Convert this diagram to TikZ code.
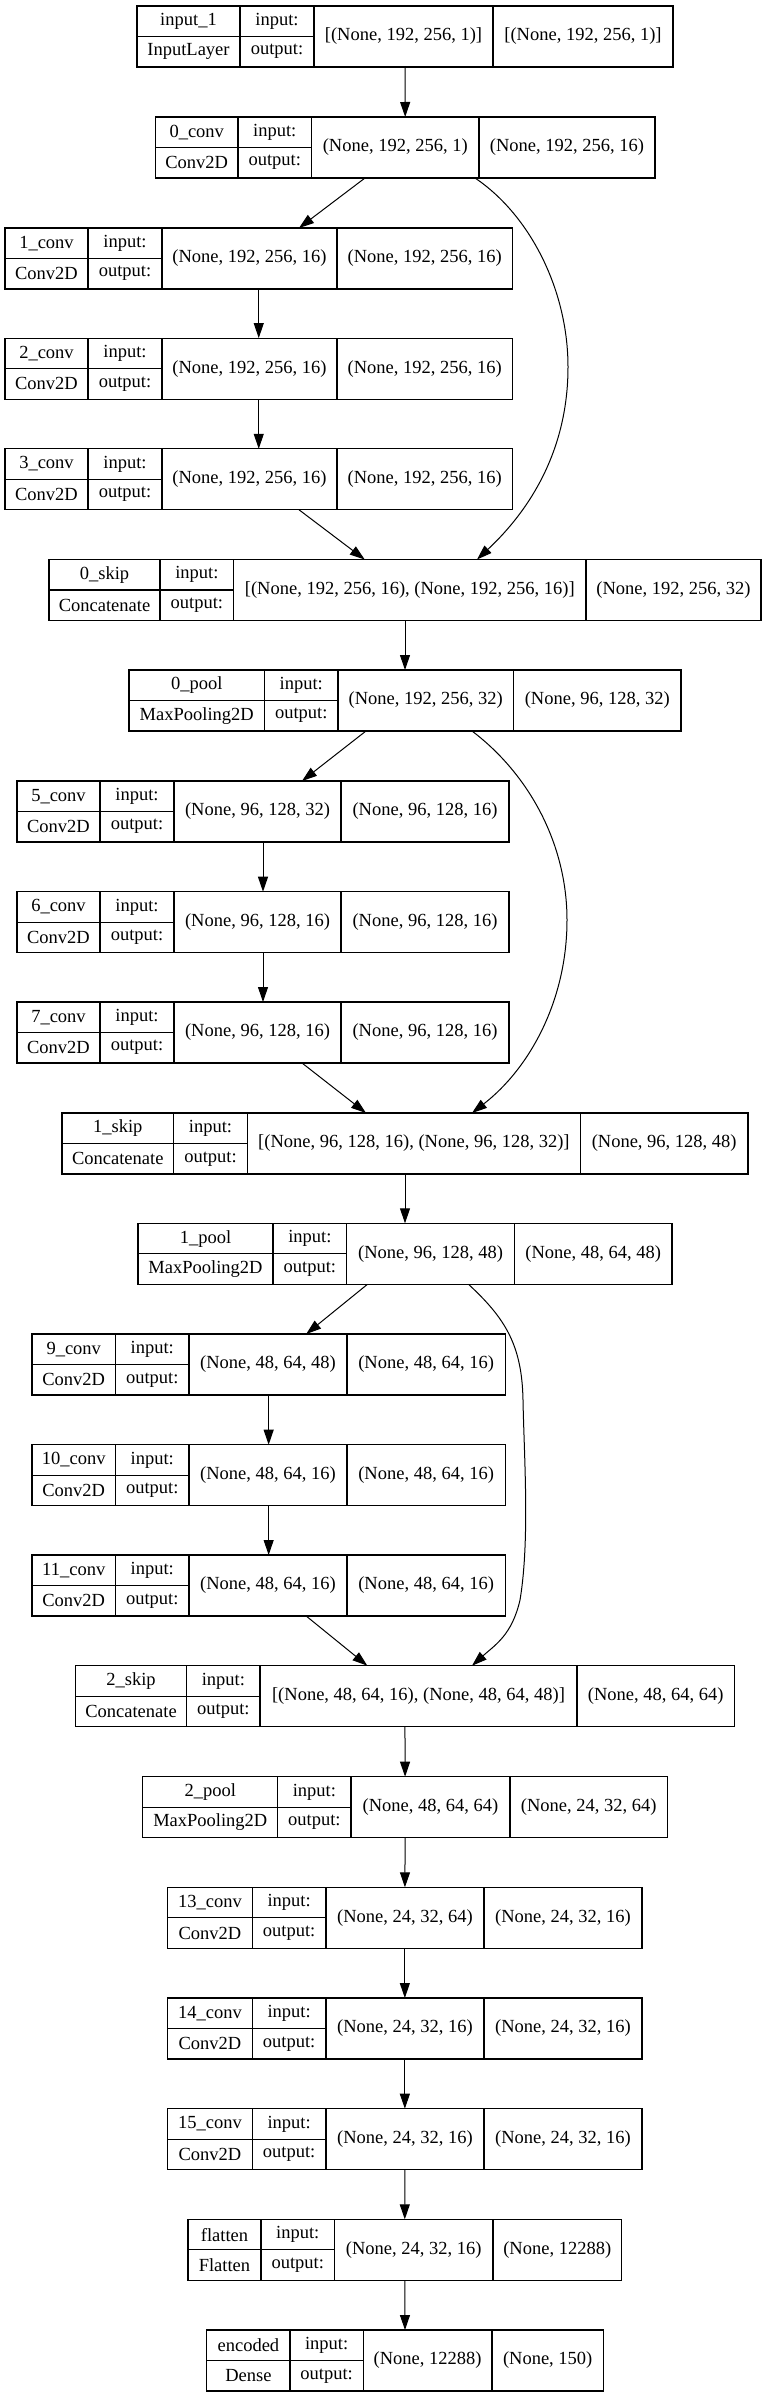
\documentclass[tikz,border=0pt]{standalone}
\usepackage{fontspec}
\setmainfont{Liberation Serif}
\usetikzlibrary{arrows.meta}
\tikzset{
  kbox/.style={draw=black, line width=1.2pt, rectangle, inner sep=0pt, outer sep=0pt, minimum height=61pt},
  kline/.style={draw=black, line width=1.2pt},
  ktxt/.style={inner sep=0pt, font=\fontsize{18.5}{22}\selectfont},
  kedge/.style={draw=black, line width=1pt, -{Triangle[length=15pt,width=10pt]}},
}
\newcommand\kgeom[7]{%
  \def\kn{#1}%
  \pgfmathsetmacro\kl{#2}\pgfmathsetmacro\kda{#3}\pgfmathsetmacro\kdb{#4}%
  \pgfmathsetmacro\kdc{#5}\pgfmathsetmacro\kr{#6}%
  \pgfmathsetmacro\kt{-(#7)}\pgfmathsetmacro\kb{-(#7)-61}\pgfmathsetmacro\km{-(#7)-30.5}%
  \node[kbox, minimum width={(\kr-\kl)*1pt}] (#1) at ({(\kl+\kr)/2},\km) {};
  \draw[kline] (\kda,\kt) -- (\kda,\kb) (\kdb,\kt) -- (\kdb,\kb) (\kdc,\kt) -- (\kdc,\kb) (\kl,\km) -- (\kdb,\km);
}
\newcommand\ktext[4]{%
  \node[ktxt] (\kn-name) at ({(\kl+\kda)/2},{\km+15.25}) {#1};
  \node[ktxt] (\kn-cls) at ({(\kl+\kda)/2},{\km-15.25}) {#2};
  \node[ktxt] (\kn-inl) at ({(\kda+\kdb)/2},{\km+15.25}) {input:};
  \node[ktxt] (\kn-outl) at ({(\kda+\kdb)/2},{\km-15.25}) {output:};
  \node[ktxt] (\kn-in) at ({(\kdb+\kdc)/2},\km) {#3};
  \node[ktxt] (\kn-out) at ({(\kdc+\kr)/2},\km) {#4};
}
\begin{document}
\begin{tikzpicture}[x=1pt,y=1pt]
\useasboundingbox (0,0) rectangle (763,-2397);
\kgeom{b0}{137}{240}{314}{493}{673}{6}
\ktext{input\_1}{InputLayer}{[(None, 192, 256, 1)]}{[(None, 192, 256, 1)]}
\kgeom{b1}{155.5}{238}{311.5}{479}{655}{117}
\ktext{0\_conv}{Conv2D}{(None, 192, 256, 1)}{(None, 192, 256, 16)}
\kgeom{b2}{5}{88}{162}{337}{512.5}{228}
\ktext{1\_conv}{Conv2D}{(None, 192, 256, 16)}{(None, 192, 256, 16)}
\kgeom{b3}{5}{88}{162}{337}{512.5}{338.1}
\ktext{2\_conv}{Conv2D}{(None, 192, 256, 16)}{(None, 192, 256, 16)}
\kgeom{b4}{5}{88}{162}{337}{512.5}{448.8}
\ktext{3\_conv}{Conv2D}{(None, 192, 256, 16)}{(None, 192, 256, 16)}
\kgeom{b5}{49}{160}{233.7}{586}{761}{559.5}
\ktext{0\_skip}{Concatenate}{[(None, 192, 256, 16), (None, 192, 256, 16)]}{(None, 192, 256, 32)}
\kgeom{b6}{129}{264.5}{338}{513.5}{681}{670}
\ktext{0\_pool}{MaxPooling2D}{(None, 192, 256, 32)}{(None, 96, 128, 32)}
\kgeom{b7}{17}{100}{174}{341}{509}{781}
\ktext{5\_conv}{Conv2D}{(None, 96, 128, 32)}{(None, 96, 128, 16)}
\kgeom{b8}{17}{100}{174}{341}{509}{891.7}
\ktext{6\_conv}{Conv2D}{(None, 96, 128, 16)}{(None, 96, 128, 16)}
\kgeom{b9}{17}{100}{174}{341}{509}{1002}
\ktext{7\_conv}{Conv2D}{(None, 96, 128, 16)}{(None, 96, 128, 16)}
\kgeom{b10}{62}{173.6}{247.4}{580.4}{748}{1113}
\ktext{1\_skip}{Concatenate}{[(None, 96, 128, 16), (None, 96, 128, 32)]}{(None, 96, 128, 48)}
\kgeom{b11}{138}{273}{346.7}{514.4}{672}{1223.3}
\ktext{1\_pool}{MaxPooling2D}{(None, 96, 128, 48)}{(None, 48, 64, 48)}
\kgeom{b12}{32}{115.5}{189}{347}{505.3}{1334}
\ktext{9\_conv}{Conv2D}{(None, 48, 64, 48)}{(None, 48, 64, 16)}
\kgeom{b13}{32}{115.5}{189}{347}{505.3}{1444.7}
\ktext{10\_conv}{Conv2D}{(None, 48, 64, 16)}{(None, 48, 64, 16)}
\kgeom{b14}{32}{115.5}{189}{347}{505.3}{1555}
\ktext{11\_conv}{Conv2D}{(None, 48, 64, 16)}{(None, 48, 64, 16)}
\kgeom{b15}{75.3}{186.8}{260}{577}{734.5}{1665.7}
\ktext{2\_skip}{Concatenate}{[(None, 48, 64, 16), (None, 48, 64, 48)]}{(None, 48, 64, 64)}
\kgeom{b16}{142.8}{277.8}{351}{510}{667.5}{1776.7}
\ktext{2\_pool}{MaxPooling2D}{(None, 48, 64, 64)}{(None, 24, 32, 64)}
\kgeom{b17}{167.7}{252.3}{326}{484}{642}{1887.3}
\ktext{13\_conv}{Conv2D}{(None, 24, 32, 64)}{(None, 24, 32, 16)}
\kgeom{b18}{167.7}{252.3}{326}{484}{642}{1998}
\ktext{14\_conv}{Conv2D}{(None, 24, 32, 16)}{(None, 24, 32, 16)}
\kgeom{b19}{167.7}{252.3}{326}{484}{642}{2108.7}
\ktext{15\_conv}{Conv2D}{(None, 24, 32, 16)}{(None, 24, 32, 16)}
\kgeom{b20}{188}{261}{334.5}{493}{621.5}{2219.3}
\ktext{flatten}{Flatten}{(None, 24, 32, 16)}{(None, 12288)}
\kgeom{b21}{206.8}{290}{363.3}{492}{603.4}{2330}
\ktext{encoded}{Dense}{(None, 12288)}{(None, 150)}
% straight edges
\draw[kedge] (b0) -- (b1);
\draw[kedge] (b1) -- (b2);
\draw[kedge] (b2) -- (b3);
\draw[kedge] (b3) -- (b4);
\draw[kedge] (b4) -- (b5);
\draw[kedge] (b5) -- (b6);
\draw[kedge] (b6) -- (b7);
\draw[kedge] (b7) -- (b8);
\draw[kedge] (b8) -- (b9);
\draw[kedge] (b9) -- (b10);
\draw[kedge] (b10) -- (b11);
\draw[kedge] (b11) -- (b12);
\draw[kedge] (b12) -- (b13);
\draw[kedge] (b13) -- (b14);
\draw[kedge] (b14) -- (b15);
\draw[kedge] (b15) -- (b16);
\draw[kedge] (b16) -- (b17);
\draw[kedge] (b17) -- (b18);
\draw[kedge] (b18) -- (b19);
\draw[kedge] (b19) -- (b20);
\draw[kedge] (b20) -- (b21);
% skip edges
\coordinate (s1a) at (475,-178);
\coordinate (s1b) at (477,-559.5);
\coordinate (s2a) at (472,-731);
\coordinate (s2b) at (472,-1113);
\coordinate (s3a) at (468.5,-1284.3);
\coordinate (s3b) at (472,-1665.7);
\draw[kedge] (s1a) .. controls (530,-215) and (568,-290) .. (568,-367)
  .. controls (568,-450) and (530,-510) .. (s1b);
\draw[kedge] (s2a) .. controls (530,-775) and (567,-845) .. (567,-920)
  .. controls (567,-1000) and (530,-1068) .. (s2b);
\draw[kedge] (s3a) .. controls (505,-1318) and (522,-1345) .. (523,-1400)
  .. controls (524,-1455) and (530,-1540) .. (520,-1600)
  .. controls (512,-1635) and (495,-1645) .. (s3b);
\end{tikzpicture}
\end{document}
